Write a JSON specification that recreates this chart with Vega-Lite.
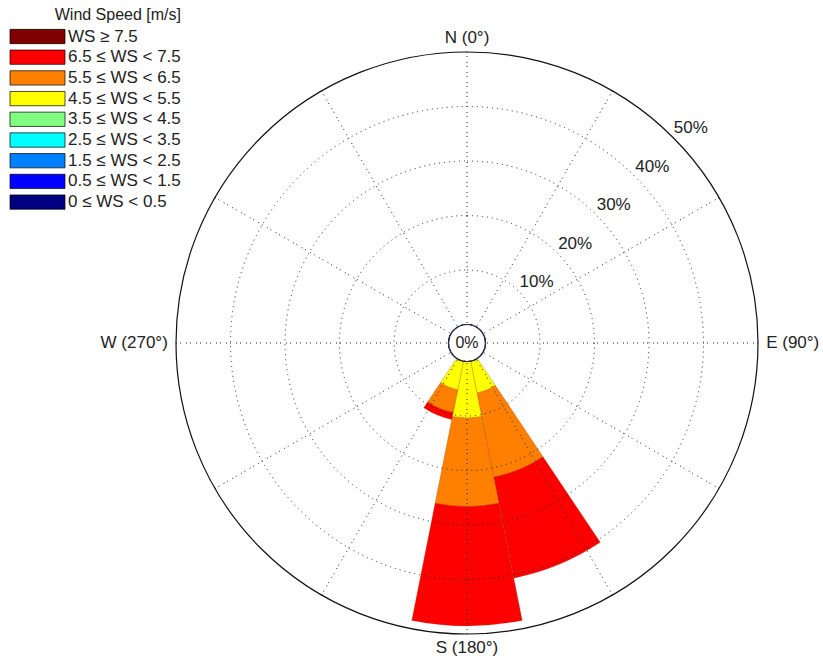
{
  "$schema": "https://vega.github.io/schema/vega-lite/v6.json",
  "width": 582,
  "height": 582,
  "autosize": {"type": "none"},
  "padding": {"left": 176, "top": 52, "right": 65, "bottom": 30},
  "background": "white",
  "config": {
    "view": {"stroke": null},
    "font": "Liberation Sans",
    "text": {"font": "Liberation Sans", "fontSize": 17, "color": "#222"}
  },
  "datasets": {
    "bars": [
      {"dirFrom": 146.25, "dirTo": 168.75, "bin": "4.5 ≤ WS < 5.5", "order": 4, "freq": 6.0},
      {"dirFrom": 146.25, "dirTo": 168.75, "bin": "5.5 ≤ WS < 6.5", "order": 5, "freq": 15.7},
      {"dirFrom": 146.25, "dirTo": 168.75, "bin": "6.5 ≤ WS < 7.5", "order": 6, "freq": 18.9},
      {"dirFrom": 168.75, "dirTo": 191.25, "bin": "4.5 ≤ WS < 5.5", "order": 4, "freq": 10.4},
      {"dirFrom": 168.75, "dirTo": 191.25, "bin": "5.5 ≤ WS < 6.5", "order": 5, "freq": 16.2},
      {"dirFrom": 168.75, "dirTo": 191.25, "bin": "6.5 ≤ WS < 7.5", "order": 6, "freq": 21.9},
      {"dirFrom": 191.25, "dirTo": 213.75, "bin": "4.5 ≤ WS < 5.5", "order": 4, "freq": 5.4},
      {"dirFrom": 191.25, "dirTo": 213.75, "bin": "5.5 ≤ WS < 6.5", "order": 5, "freq": 4.2},
      {"dirFrom": 191.25, "dirTo": 213.75, "bin": "6.5 ≤ WS < 7.5", "order": 6, "freq": 1.3}
    ],
    "spokes": [
      {"angle": 0}, {"angle": 30}, {"angle": 60}, {"angle": 90}, {"angle": 120}, {"angle": 150},
      {"angle": 180}, {"angle": 210}, {"angle": 240}, {"angle": 270}, {"angle": 300}, {"angle": 330}
    ],
    "rings": [
      {"pct": 10, "label": "10%"}, {"pct": 20, "label": "20%"}, {"pct": 30, "label": "30%"},
      {"pct": 40, "label": "40%"}, {"pct": 50, "label": "50%"}
    ],
    "ns": [{"label": "N (0°)", "angle": 0}, {"label": "S (180°)", "angle": 180}],
    "e": [{"label": "E (90°)", "angle": 90}],
    "w": [{"label": "W (270°)", "angle": 270}]
  },
  "layer": [
    {
      "data": {"name": "bars"},
      "transform": [
        {"stack": "freq", "groupby": ["dirFrom"], "sort": [{"field": "order", "order": "ascending"}], "as": ["f0", "f1"]}
      ],
      "mark": {"type": "arc", "stroke": "#7a3000", "strokeWidth": 0.5, "strokeOpacity": 0.5},
      "encoding": {
        "theta": {"field": "dirFrom", "type": "quantitative", "stack": null, "scale": {"type": "linear", "domain": [0, 360], "range": [0, 6.283185307179586]}},
        "theta2": {"field": "dirTo"},
        "radius": {"field": "f1", "type": "quantitative", "stack": null, "scale": {"type": "linear", "domain": [0, 50], "range": [18.5, 291], "zero": false}},
        "radius2": {"field": "f0"},
        "color": {
          "field": "bin",
          "type": "nominal",
          "scale": {
            "domain": ["WS ≥ 7.5", "6.5 ≤ WS < 7.5", "5.5 ≤ WS < 6.5", "4.5 ≤ WS < 5.5", "3.5 ≤ WS < 4.5", "2.5 ≤ WS < 3.5", "1.5 ≤ WS < 2.5", "0.5 ≤ WS < 1.5", "0 ≤ WS < 0.5"],
            "range": ["#800000", "#ff0000", "#ff8000", "#ffff00", "#80ff80", "#00ffff", "#0080ff", "#0000ff", "#000080"]
          },
          "legend": {
            "orient": "none",
            "legendX": -166,
            "legendY": -45,
            "title": "Wind Speed [m/s]",
            "titleAnchor": "end",
            "symbolType": "M-1.7,-1.43L9.3,-1.43L9.3,1.43L-1.7,1.43Z",
            "symbolSize": 100,
            "symbolStrokeColor": "#000",
            "symbolStrokeWidth": 0.7,
            "symbolOpacity": 1,
            "labelFont": "Liberation Sans",
            "labelFontSize": 17,
            "labelColor": "#222",
            "labelOffset": 41,
            "labelLimit": 300,
            "titleFont": "Liberation Sans",
            "titleFontSize": 16,
            "titleFontWeight": "normal",
            "titleColor": "#222",
            "titlePadding": 5,
            "rowPadding": 1.7,
            "padding": 0
          }
        }
      }
    },
    {
      "data": {"name": "rings"},
      "transform": [{"filter": "datum.pct < 50"}],
      "mark": {"type": "arc", "fill": "transparent", "stroke": "#222", "strokeWidth": 1, "strokeDash": [1, 4]},
      "encoding": {
        "theta": {"datum": 0, "scale": {"type": "linear", "domain": [0, 360], "range": [0, 6.283185307179586]}},
        "theta2": {"datum": 360},
        "radius": {"field": "pct", "type": "quantitative", "stack": null, "scale": {"type": "linear", "domain": [0, 50], "range": [18.5, 291], "zero": false}}
      }
    },
    {
      "data": {"name": "spokes"},
      "mark": {"type": "arc", "fill": "transparent", "stroke": "#222", "strokeWidth": 1, "strokeDash": [1, 9]},
      "encoding": {
        "theta": {"field": "angle", "type": "quantitative", "stack": null, "scale": {"type": "linear", "domain": [0, 360], "range": [0, 6.283185307179586]}},
        "theta2": {"field": "angle"},
        "radius": {"datum": 50, "scale": {"type": "linear", "domain": [0, 50], "range": [18.5, 291], "zero": false}},
        "radius2": {"datum": 0}
      }
    },
    {
      "data": {"values": [{}]},
      "mark": {"type": "arc", "fill": "transparent", "stroke": "#111", "strokeWidth": 1.2},
      "encoding": {
        "theta": {"datum": 0},
        "theta2": {"datum": 360},
        "radius": {"datum": 50}
      }
    },
    {
      "data": {"values": [{}]},
      "mark": {"type": "arc", "fill": "white", "stroke": "#2b2f5c", "strokeWidth": 1.2},
      "encoding": {
        "theta": {"datum": 0},
        "theta2": {"datum": 360},
        "radius": {"datum": 0}
      }
    },
    {
      "data": {"values": [{"label": "0%"}]},
      "mark": {"type": "text", "align": "center", "baseline": "middle", "fontSize": 16},
      "encoding": {"text": {"field": "label"}}
    },
    {
      "data": {"name": "rings"},
      "mark": {"type": "text", "align": "left", "baseline": "bottom", "dx": 1, "fontSize": 17},
      "encoding": {
        "theta": {"datum": 45},
        "radius": {"field": "pct", "type": "quantitative", "stack": null},
        "text": {"field": "label"}
      }
    },
    {
      "data": {"name": "ns"},
      "mark": {"type": "text", "align": "center", "baseline": "middle", "fontSize": 17},
      "encoding": {
        "theta": {"field": "angle", "type": "quantitative", "stack": null},
        "radius": {"datum": 52.6},
        "text": {"field": "label"}
      }
    },
    {
      "data": {"name": "e"},
      "mark": {"type": "text", "align": "left", "baseline": "middle", "fontSize": 17},
      "encoding": {
        "theta": {"field": "angle", "type": "quantitative", "stack": null},
        "radius": {"datum": 51.5},
        "text": {"field": "label"}
      }
    },
    {
      "data": {"name": "w"},
      "mark": {"type": "text", "align": "right", "baseline": "middle", "fontSize": 17},
      "encoding": {
        "theta": {"field": "angle", "type": "quantitative", "stack": null},
        "radius": {"datum": 51.5},
        "text": {"field": "label"}
      }
    }
  ]
}
